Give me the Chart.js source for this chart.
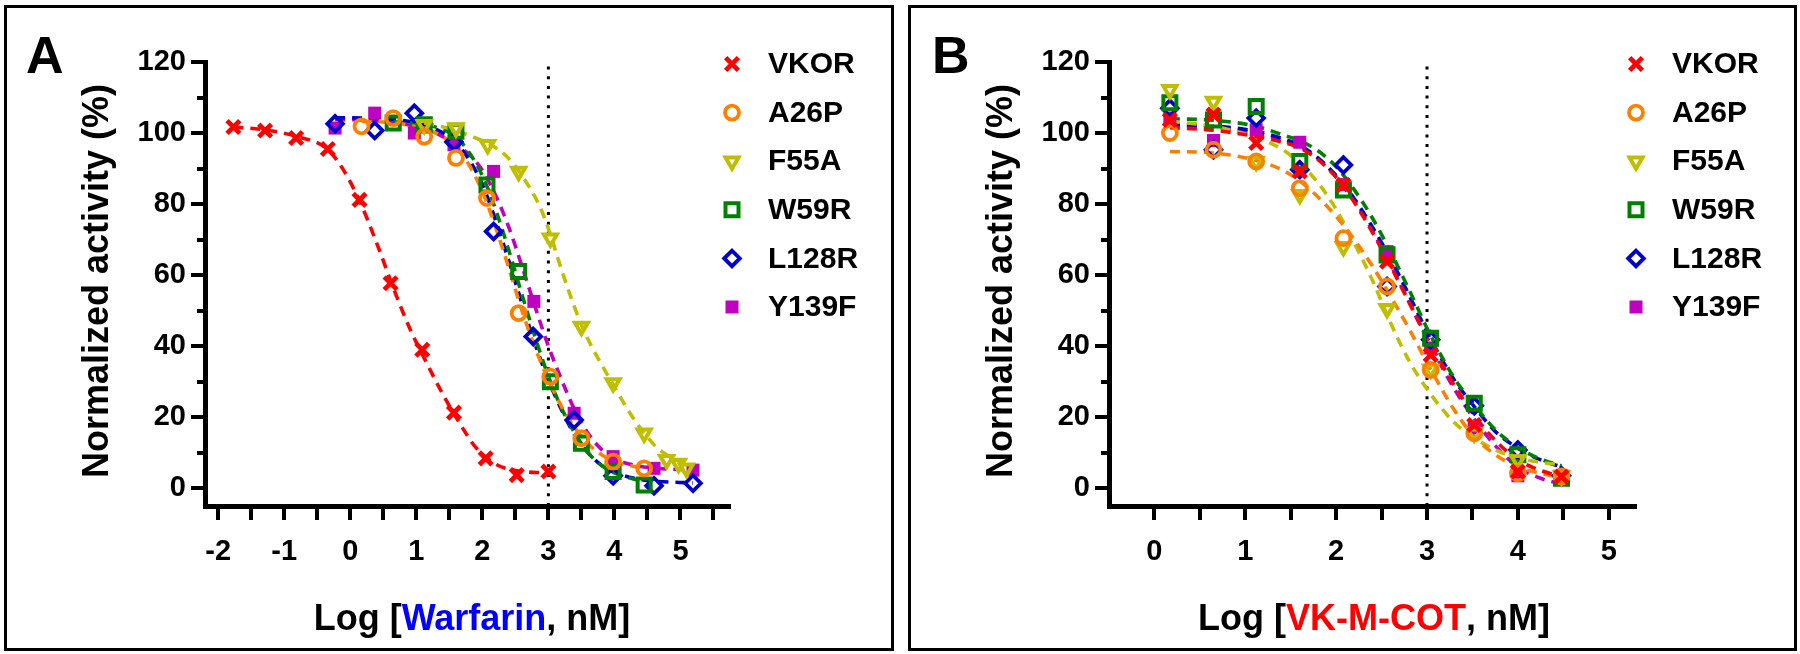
<!DOCTYPE html>
<html><head><meta charset="utf-8">
<script src="https://cdn.jsdelivr.net/npm/chart.js@4.4.0/dist/chart.umd.min.js"></script>
<style>
html,body{margin:0;padding:0;background:#fff;width:1800px;height:654px;overflow:hidden;}
canvas{position:absolute;top:0;}
.box{position:absolute;border:3px solid #000;box-sizing:border-box;pointer-events:none;}
</style></head><body>
<canvas id="ca" width="900" height="654" style="left:0px"></canvas>
<canvas id="cb" width="896" height="654" style="left:904px"></canvas>
<div class="box" style="left:4px;top:5px;width:890px;height:646px"></div>
<div class="box" style="left:908px;top:5px;width:889px;height:646px"></div>
<script>
// ---------- series / legend ----------
const seriesNames = ['VKOR', 'A26P', 'F55A', 'W59R', 'L128R', 'Y139F'];

// ---------- Panel A (Warfarin): measured points ----------
const aX_VKOR  = [-1.77, -1.29, -0.82, -0.34, 0.14, 0.61, 1.09, 1.57, 2.05, 2.52, 3.0];
const aY_VKOR  = [101.7, 100.7, 98.6, 95.5, 81.2, 57.7, 39.0, 21.3, 8.4, 3.7, 4.7];
const aX_A26P  = [0.17, 0.65, 1.12, 1.6, 2.07, 2.55, 3.03, 3.5, 3.98, 4.45];
const aY_A26P  = [101.9, 104.2, 99.0, 93.0, 81.7, 49.3, 31.4, 14.1, 7.5, 5.6];
const aX_F55A  = [1.12, 1.6, 2.08, 2.55, 3.03, 3.5, 3.98, 4.45, 4.79, 4.97, 5.09];
const aY_F55A  = [102.3, 101.4, 96.7, 89.2, 70.4, 45.5, 29.6, 15.5, 8.0, 7.0, 5.6];
const aX_W59R  = [0.65, 1.12, 1.6, 2.07, 2.55, 3.03, 3.5, 3.98, 4.45];
const aY_W59R  = [102.8, 102.3, 100.5, 85.4, 61.0, 30.0, 12.7, 4.7, 0.9];
const aX_L128R = [-0.23, 0.37, 0.97, 1.57, 2.17, 2.77, 3.39, 3.98, 4.6, 5.19];
const aY_L128R = [102.6, 100.7, 105.6, 97.5, 72.3, 42.7, 19.2, 3.5, 0.7, 1.4];
const aX_Y139F = [-0.23, 0.37, 0.97, 1.57, 2.17, 2.78, 3.39, 3.98, 4.6, 5.19];
const aY_Y139F = [101.4, 105.6, 100.0, 96.7, 89.2, 52.6, 21.1, 8.9, 5.6, 5.1];

// ---------- Panel A: fitted curves ----------
const aFitX_VKOR  = [-1.77, -1.3, -0.8, -0.35, -0.1, 0.15, 0.4, 0.65, 0.9, 1.15, 1.4, 1.65, 1.9, 2.2, 2.5, 3.0];
const aFitY_VKOR  = [101.7, 100.9, 99.0, 95.5, 89.5, 80.5, 69.0, 56.5, 45.0, 35.5, 26.5, 18.5, 11.5, 6.8, 5.0, 4.3];
const aFitX_A26P  = [0.17, 0.65, 1.12, 1.4, 1.6, 1.8, 2.0, 2.2, 2.4, 2.6, 2.8, 3.0, 3.2, 3.4, 3.6, 3.8, 4.0, 4.45];
const aFitY_A26P  = [103.3, 102.9, 101.2, 99.0, 96.0, 91.0, 83.5, 73.5, 62.0, 50.0, 39.5, 30.5, 23.0, 17.0, 12.5, 9.5, 7.5, 5.6];
const aFitX_F55A  = [1.12, 1.6, 1.8, 2.1, 2.37, 2.6, 2.87, 3.03, 3.13, 3.28, 3.5, 3.68, 3.83, 4.0, 4.19, 4.39, 4.64, 4.9, 5.09];
const aFitY_F55A  = [102.8, 100.8, 99.3, 97.0, 93.4, 88.0, 79.3, 71.5, 65.5, 57.0, 46.0, 39.0, 34.0, 28.5, 22.5, 17.0, 11.5, 8.3, 6.8];
const aFitX_W59R  = [0.65, 1.12, 1.4, 1.6, 1.8, 2.0, 2.2, 2.4, 2.6, 2.8, 3.0, 3.2, 3.4, 3.6, 3.8, 4.0, 4.45];
const aFitY_W59R  = [103.2, 102.4, 101.0, 99.0, 94.5, 88.0, 78.5, 67.0, 54.5, 42.5, 31.5, 22.5, 15.5, 10.0, 6.5, 4.3, 1.8];
const aFitX_L128R = [-0.23, 0.37, 0.97, 1.3, 1.57, 1.8, 2.0, 2.2, 2.4, 2.6, 2.8, 3.0, 3.2, 3.4, 3.6, 3.8, 4.0, 4.3, 4.6, 5.19];
const aFitY_L128R = [104.3, 104.1, 103.0, 101.0, 97.8, 92.5, 85.5, 75.5, 64.0, 52.0, 40.5, 30.5, 22.0, 15.0, 10.0, 6.5, 4.5, 2.8, 2.0, 1.5];
const aFitX_Y139F = [-0.23, 0.37, 0.97, 1.3, 1.57, 1.8, 2.0, 2.2, 2.4, 2.6, 2.8, 3.0, 3.2, 3.4, 3.6, 3.8, 4.0, 4.3, 4.6, 5.19];
const aFitY_Y139F = [103.8, 103.5, 102.0, 100.0, 97.0, 94.0, 89.5, 82.5, 73.5, 62.5, 51.0, 40.0, 30.5, 22.0, 15.5, 11.0, 8.3, 6.5, 5.7, 5.1];

// ---------- Panel B (VK-M-COT): measured points ----------
const bX = [0.17, 0.65, 1.12, 1.6, 2.08, 2.56, 3.04, 3.52, 4.0, 4.48];
const bY_VKOR  = [103.7, 105.2, 97.2, 89.2, 85.4, 63.8, 37.5, 17.8, 4.7, 3.3];
const bY_A26P  = [100.0, 95.3, 92.0, 84.5, 70.4, 56.8, 33.3, 15.5, 4.2, 3.3];
const bY_F55A  = [112.2, 108.9, 92.0, 82.6, 68.0, 50.5, 33.5, 15.5, 8.0, 3.5];
const bY_W59R  = [108.5, 103.7, 107.5, 92.0, 84.0, 65.7, 42.2, 23.9, 9.4, 2.8];
const bY_L128R = [107.0, 95.3, 104.2, 89.7, 91.0, 56.8, 41.8, 23.2, 10.8, 3.5];
const bY_Y139F = [104.2, 97.9, 100.9, 97.4, 85.5, 66.6, 39.5, 17.0, 3.5, 2.8];

// ---------- Panel B: fitted curves ----------
const bFitX = [0.17, 0.65, 1.12, 1.4, 1.6, 1.8, 2.0, 2.2, 2.4, 2.6, 2.8, 3.04, 3.3, 3.52, 3.75, 4.0, 4.25, 4.48];
const bFitY_VKOR  = [101.5, 100.8, 99.0, 97.5, 95.8, 92.5, 87.5, 80.5, 72.0, 62.5, 52.5, 40.5, 29.0, 20.5, 13.5, 8.0, 5.0, 3.3];
const bFitY_A26P  = [94.8, 94.4, 92.3, 89.7, 86.5, 82.0, 76.5, 70.0, 62.5, 54.0, 45.0, 33.5, 22.0, 14.5, 9.5, 6.0, 4.2, 3.0];
const bFitY_F55A  = [103.3, 101.9, 98.7, 95.5, 91.5, 86.0, 78.5, 69.0, 58.5, 46.5, 36.0, 26.5, 18.5, 14.2, 10.8, 8.5, 7.3, 6.6];
const bFitY_W59R  = [104.0, 103.6, 101.9, 99.6, 97.8, 95.0, 90.5, 84.0, 76.0, 66.5, 56.0, 43.0, 31.0, 23.5, 16.5, 11.5, 8.2, 6.3];
const bFitY_L128R = [102.5, 102.0, 100.5, 98.5, 96.5, 93.0, 88.0, 81.5, 73.5, 64.5, 54.5, 42.0, 30.5, 23.0, 16.0, 11.3, 8.0, 6.0];
const bFitY_Y139F = [102.0, 101.5, 100.0, 98.0, 96.0, 92.8, 87.8, 81.0, 72.5, 63.0, 52.5, 40.0, 28.0, 19.5, 12.0, 6.0, 2.8, 1.2];

// ---------- axes ----------
const aXTicks = [-2, -1.5, -1, -0.5, 0, 0.5, 1, 1.5, 2, 2.5, 3, 3.5, 4, 4.5, 5, 5.5];
const bXTicks = [0, 0.5, 1, 1.5, 2, 2.5, 3, 3.5, 4, 4.5, 5];
const yTicks  = [0, 10, 20, 30, 40, 50, 60, 70, 80, 90, 100, 110, 120];
const refLineX = 3;
const refLineY = [-5, 120];
const yTitle = 'Normalized activity (%)';
const aXTitle = ['Log [', 'Warfarin', ', nM]'];
const bXTitle = ['Log [', 'VK-M-COT', ', nM]'];

// ---------- styles ----------
const FONT = '"Liberation Sans", Arial, Helvetica, sans-serif';
Chart.defaults.font.family = FONT;
Chart.defaults.color = '#000';
const colors = ['#FF0000', '#FF8000', '#BFBF00', '#008000', '#0000CC', '#C000C0'];
const markers = [
  {pointStyle: 'crossRot', radius: 9, borderWidth: 4.8, rotation: 0, fill: false},
  {pointStyle: 'circle', radius: 7, borderWidth: 3.8, rotation: 0, fill: false},
  {pointStyle: 'triangle', radius: 7.5, borderWidth: 4, rotation: 180, fill: false},
  {pointStyle: 'rect', radius: 9.2, borderWidth: 4, rotation: 0, fill: false},
  {pointStyle: 'rectRot', radius: 7.8, borderWidth: 3.8, rotation: 0, fill: false},
  {pointStyle: 'rect', radius: 9.2, borderWidth: 0, rotation: 0, fill: true}
];
const titleColorsA = ['#000', '#0000FF', '#000'];
const titleColorsB = ['#000', '#FF0000', '#000'];

function pts(xs, ys) { return xs.map((x, i) => ({x: x, y: ys[i]})); }

function pointDataset(i, xs, ys) {
  const m = markers[i];
  return {
    label: seriesNames[i], data: pts(xs, ys), showLine: false,
    pointStyle: m.pointStyle, pointRadius: m.radius, pointBorderWidth: m.borderWidth,
    pointRotation: m.rotation, pointBorderColor: colors[i],
    pointBackgroundColor: m.fill ? colors[i] : 'rgba(0,0,0,0)',
    pointHoverRadius: m.radius, clip: false
  };
}
function curveDataset(i, xs, ys) {
  return {
    label: seriesNames[i] + ' fit', data: pts(xs, ys), showLine: true,
    borderColor: colors[i], borderWidth: 3.6, borderDash: [10, 7],
    pointRadius: 0, fill: false, cubicInterpolationMode: 'monotone'
  };
}
function refDataset() {
  return {
    label: 'ref', data: refLineY.map(y => ({x: refLineX, y: y})), showLine: true,
    borderColor: '#000', borderWidth: 3, borderDash: [3, 6.7], pointRadius: 0, fill: false
  };
}

const decor = {
  id: 'decor',
  afterDraw(chart, args, o) {
    const ctx = chart.ctx;
    const ca = chart.chartArea;
    const xs = chart.scales.x, ys = chart.scales.y;
    ctx.save();
    ctx.strokeStyle = '#000'; ctx.lineWidth = 4; ctx.lineCap = 'butt'; ctx.setLineDash([]);
    o.yTicks.forEach(v => {
      const py = Math.round(ys.getPixelForValue(v));
      const len = (v % 20 === 0) ? 14 : 8;
      ctx.beginPath(); ctx.moveTo(ca.left - len, py); ctx.lineTo(ca.left, py); ctx.stroke();
    });
    o.xTicks.forEach(v => {
      const px = Math.round(xs.getPixelForValue(v));
      ctx.beginPath(); ctx.moveTo(px, ca.bottom); ctx.lineTo(px, ca.bottom + 14); ctx.stroke();
    });
    // panel letter
    ctx.fillStyle = '#000';
    ctx.font = 'bold 52px ' + FONT;
    ctx.textAlign = 'left'; ctx.textBaseline = 'alphabetic';
    ctx.fillText(o.letter, o.letterX, 73);
    // y title
    ctx.font = 'bold 36px ' + FONT;
    ctx.save();
    ctx.translate(98, 281);
    ctx.rotate(-Math.PI / 2);
    ctx.textAlign = 'center'; ctx.textBaseline = 'middle';
    ctx.fillText(yTitle, 0, 0);
    ctx.restore();
    // x title (mixed colours)
    ctx.textAlign = 'left'; ctx.textBaseline = 'alphabetic';
    const widths = o.xTitle.map(s => ctx.measureText(s).width);
    const total = widths.reduce((a, b) => a + b, 0);
    let x = o.xTitleCenter - total / 2;
    o.xTitle.forEach((s, k) => {
      ctx.fillStyle = o.xTitleColors[k];
      ctx.fillText(s, x, 630);
      x += widths[k];
    });
    // legend
    ctx.font = 'bold 30px ' + FONT;
    ctx.textBaseline = 'middle';
    seriesNames.forEach((name, i) => {
      const ly = 64 + i * 48.6;
      const m = markers[i];
      ctx.strokeStyle = colors[i];
      ctx.fillStyle = m.fill ? colors[i] : 'rgba(0,0,0,0)';
      ctx.lineWidth = m.borderWidth;
      Chart.helpers.drawPoint(ctx, {pointStyle: m.pointStyle, radius: m.radius, rotation: m.rotation, borderWidth: m.borderWidth}, o.legendMarkerX, ly);
      ctx.fillStyle = '#000';
      ctx.fillText(name, o.legendTextX, ly + 1);
    });
    ctx.restore();
  }
};

function makeChart(id, pointSets, curveSets, xMin, xMax, rightPad, xTicks, letter, letterX, xTitle, xTitleColors, xTitleCenter) {
  const datasets = [];
  pointSets.forEach((s, i) => datasets.push(pointDataset(i, s[0], s[1])));
  curveSets.forEach((s, i) => datasets.push(curveDataset(i, s[0], s[1])));
  datasets.push(refDataset());
  return new Chart(document.getElementById(id), {
    type: 'line',
    data: {datasets: datasets},
    plugins: [decor],
    options: {
      responsive: false, animation: false, events: [],
      layout: {padding: {left: 0, top: 62, right: rightPad, bottom: 0}, autoPadding: false},
      plugins: {
        legend: {display: false}, tooltip: {enabled: false},
        decor: {yTicks: yTicks, xTicks: xTicks, letter: letter, letterX: letterX,
                xTitle: xTitle, xTitleColors: xTitleColors, xTitleCenter: xTitleCenter,
                legendMarkerX: 732, legendTextX: 768}
      },
      scales: {
        x: {
          type: 'linear', min: xMin, max: xMax,
          afterBuildTicks: (sc) => { sc.ticks = xTicks.map(v => ({value: v})); },
          afterFit: (sc) => { sc.height = 654 - 506; },
          ticks: {autoSkip: false, maxRotation: 0, padding: 29, color: '#000',
                  font: {size: 29, weight: 'bold'},
                  callback: (v) => Number.isInteger(v) ? String(v) : ''},
          grid: {display: false, drawTicks: false},
          border: {display: true, color: '#000', width: 5}
        },
        y: {
          type: 'linear', min: -5, max: 120,
          afterBuildTicks: (sc) => { sc.ticks = yTicks.map(v => ({value: v})); },
          afterFit: (sc) => { sc.width = 205; },
          ticks: {autoSkip: false, padding: 19, color: '#000',
                  font: {size: 29, weight: 'bold'},
                  callback: (v) => (v % 20 === 0) ? String(v) : ''},
          grid: {display: false, drawTicks: false},
          border: {display: true, color: '#000', width: 5}
        }
      }
    }
  });
}

makeChart('ca',
  [[aX_VKOR, aY_VKOR], [aX_A26P, aY_A26P], [aX_F55A, aY_F55A], [aX_W59R, aY_W59R], [aX_L128R, aY_L128R], [aX_Y139F, aY_Y139F]],
  [[aFitX_VKOR, aFitY_VKOR], [aFitX_A26P, aFitY_A26P], [aFitX_F55A, aFitY_F55A], [aFitX_W59R, aFitY_W59R], [aFitX_L128R, aFitY_L128R], [aFitX_Y139F, aFitY_Y139F]],
  -2.2, 5.75, 170, aXTicks, 'A', 26, aXTitle, titleColorsA, 472);

makeChart('cb',
  [[bX, bY_VKOR], [bX, bY_A26P], [bX, bY_F55A], [bX, bY_W59R], [bX, bY_L128R], [bX, bY_Y139F]],
  [[bFitX, bFitY_VKOR], [bFitX, bFitY_A26P], [bFitX, bFitY_F55A], [bFitX, bFitY_W59R], [bFitX, bFitY_L128R], [bFitX, bFitY_Y139F]],
  -0.5, 5.3, 164, bXTicks, 'B', 28, bXTitle, titleColorsB, 470);
</script>
</body></html>
